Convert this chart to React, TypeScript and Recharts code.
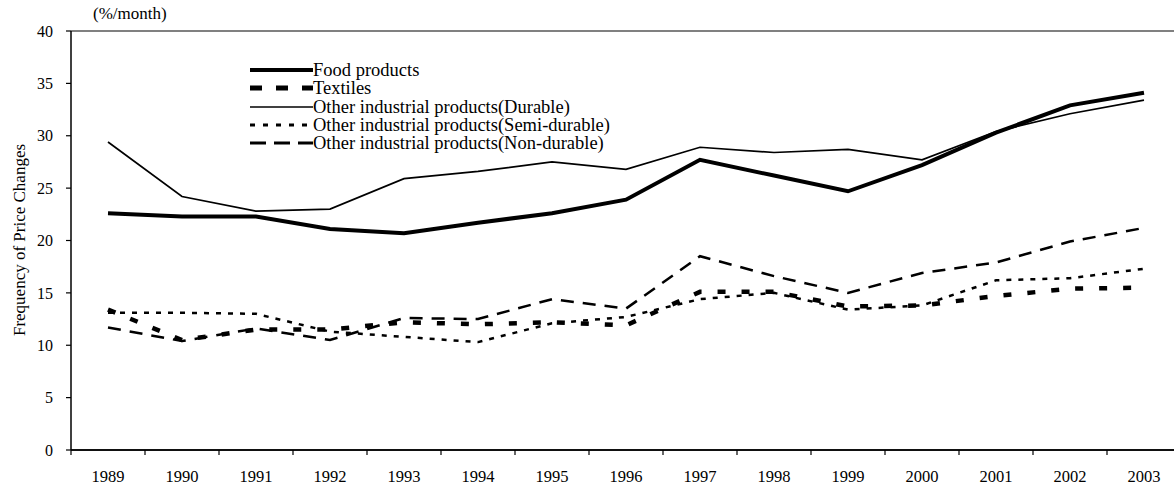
import React from 'react';
import { LineChart, Line, XAxis, YAxis, ReferenceLine, Legend } from 'recharts';

const years = [1989, 1990, 1991, 1992, 1993, 1994, 1995, 1996, 1997, 1998, 1999, 2000, 2001, 2002, 2003];
const food = [22.6, 22.3, 22.3, 21.1, 20.7, 21.7, 22.6, 23.9, 27.7, 26.2, 24.7, 27.2, 30.3, 32.9, 34.1];
const textiles = [13.4, 10.5, 11.5, 11.5, 12.2, 12.0, 12.2, 11.9, 15.1, 15.1, 13.7, 13.8, 14.7, 15.4, 15.5];
const durable = [29.4, 24.2, 22.8, 23.0, 25.9, 26.6, 27.5, 26.8, 28.9, 28.4, 28.7, 27.7, 30.4, 32.1, 33.4];
const semiDurable = [13.1, 13.1, 13.0, 11.3, 10.8, 10.3, 12.1, 12.7, 14.4, 15.0, 13.4, 13.8, 16.2, 16.4, 17.3];
const nonDurable = [11.7, 10.4, 11.6, 10.5, 12.6, 12.5, 14.4, 13.5, 18.5, 16.6, 15.0, 16.9, 17.9, 19.9, 21.2];
const yTicks = [0, 5, 10, 15, 20, 25, 30, 35, 40];

// tick marks sit on the year boundaries, labels on the years
const boundaries = [...years.map(y => y - 0.5), years[years.length - 1] + 0.5];

const data = years.map((year, i) => ({
    year,
    food: food[i],
    textiles: textiles[i],
    durable: durable[i],
    semi: semiDurable[i],
    non: nonDurable[i]
}));

const FONT = '"Liberation Serif", "Times New Roman", serif';

// line styles: plot dash / legend dash
const series = [
    { key: 'food', name: 'Food products', width: 4, dash: undefined, legendWidth: 4, legendDash: undefined },
    { key: 'textiles', name: 'Textiles', width: 4.5, dash: '8 16', legendWidth: 5, legendDash: '12 14' },
    { key: 'durable', name: 'Other industrial products(Durable)', width: 1.7, dash: undefined, legendWidth: 1.7, legendDash: undefined },
    { key: 'semi', name: 'Other industrial products(Semi-durable)', width: 2.5, dash: '5 7', legendWidth: 3, legendDash: '5 8' },
    { key: 'non', name: 'Other industrial products(Non-durable)', width: 2.5, dash: '13 9', legendWidth: 3, legendDash: '16 8' }
];

const LegendRows = () => (
    <div style={{ fontFamily: FONT, fontSize: 18.5, color: '#000' }}>
        {series.map(s => (
            <div key={s.key} style={{ display: 'flex', alignItems: 'center', height: 18.3, lineHeight: '18px' }}>
                <svg width={63} height={18} style={{ display: 'block' }}>
                    <line x1={0} x2={63} y1={9} y2={9} stroke="#000" strokeWidth={s.legendWidth} strokeDasharray={s.legendDash} />
                </svg>
                <span style={{ whiteSpace: 'nowrap' }}>{s.name}</span>
            </div>
        ))}
    </div>
);

export default function App() {
    return (
        <div style={{ position: 'absolute', left: 0, top: 0, width: 1174, height: 487, background: '#fff', fontFamily: FONT }}>
            <LineChart width={1174} height={487} data={data} margin={{ top: 31, right: -7, bottom: 0, left: 0 }}>
                <XAxis
                    dataKey="year"
                    type="number"
                    domain={[1988.5, 2003.5]}
                    allowDataOverflow
                    ticks={boundaries}
                    interval={0}
                    tickFormatter={() => ''}
                    tickSize={5}
                    height={1}
                    axisLine={{ stroke: '#111', strokeWidth: 2 }}
                    tickLine={{ stroke: '#000', strokeWidth: 1.2 }}
                />
                <XAxis
                    xAxisId="labels"
                    dataKey="year"
                    type="number"
                    domain={[1988.5, 2003.5]}
                    allowDataOverflow
                    ticks={years}
                    interval={0}
                    axisLine={false}
                    tickLine={false}
                    tickSize={0}
                    tickMargin={19}
                    height={36}
                    tick={{ fill: '#000', fontSize: 16.5, fontFamily: FONT }}
                />
                <YAxis
                    type="number"
                    domain={[0, 40]}
                    ticks={yTicks}
                    interval={0}
                    width={71}
                    tickSize={5}
                    tickMargin={13}
                    axisLine={{ stroke: '#000', strokeWidth: 1.5 }}
                    tickLine={{ stroke: '#000', strokeWidth: 1.2 }}
                    tick={{ fill: '#000', fontSize: 16, fontFamily: FONT }}
                />
                <ReferenceLine y={40} stroke="#808080" strokeWidth={2} />
                <Legend
                    layout="vertical"
                    align="center"
                    verticalAlign="middle"
                    content={<LegendRows />}
                    wrapperStyle={{ position: 'absolute', left: 250, top: 61, width: 'auto', height: 'auto' }}
                />
                {series.map(s => (
                    <Line
                        key={s.key}
                        type="linear"
                        dataKey={s.key}
                        name={s.name}
                        stroke="#000"
                        strokeWidth={s.width}
                        strokeDasharray={s.dash}
                        dot={false}
                        activeDot={false}
                        isAnimationActive={false}
                    />
                ))}
            </LineChart>

            <div
                style={{
                    position: 'absolute',
                    left: 19,
                    top: 240,
                    transform: 'translate(-50%, -50%) rotate(-90deg)',
                    whiteSpace: 'nowrap',
                    fontSize: 17,
                    lineHeight: '17px'
                }}
            >
                Frequency of Price Changes
            </div>
            <div style={{ position: 'absolute', left: 93, top: 5, fontSize: 17, lineHeight: '17px', whiteSpace: 'nowrap' }}>
                (%/month)
            </div>
        </div>
    );
}
